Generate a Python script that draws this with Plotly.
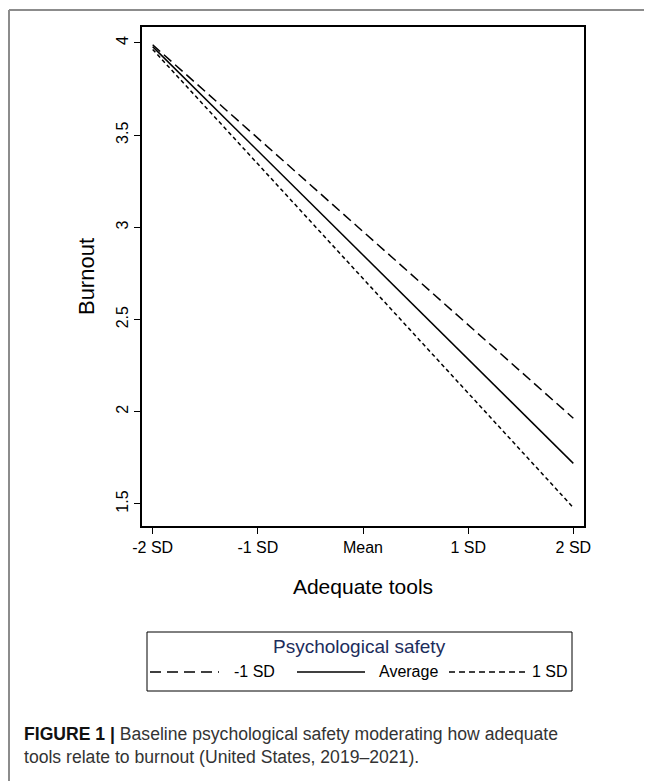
import plotly.graph_objects as go

# ---- data ----
x_ticks = [-2, -1, 0, 1, 2]
x_ticklabels = ["-2 SD", "-1 SD", "Mean", "1 SD", "2 SD"]
x_points = [-2, 2]
burnout_low_ps = [3.99, 1.965]   # -1 SD psychological safety
burnout_avg_ps = [3.98, 1.72]    # Average
burnout_high_ps = [3.965, 1.48]  # 1 SD
y_ticks = [1.5, 2, 2.5, 3, 3.5, 4]
y_ticklabels = ["1.5", "2", "2.5", "3", "3.5", "4"]
legend_title = "Psychological safety"
series_names = ["-1 SD", "Average", "1 SD"]

OFF = 8  # page body margin
W, H = 652 - OFF, 781 - OFF
L, R, T, B = 141, 585, 26, 527  # plot area in page pixels
FONT = "Liberation Sans, Arial, Helvetica, sans-serif"


def px(x):
    return (x - L) / (R - L)


def py(y):
    return (B - y) / (B - T)


fig = go.Figure()
styles = [
    dict(dash="10px,5px", width=1.5),
    dict(dash="solid", width=1.5),
    dict(dash="4px,3px", width=1.5),
]
for name, vals, st in zip(series_names, [burnout_low_ps, burnout_avg_ps, burnout_high_ps], styles):
    fig.add_trace(go.Scatter(
        x=x_points, y=vals, mode="lines", name=name, showlegend=False,
        line=dict(color="black", **st), hoverinfo="skip"))

shapes = []
annotations = []

# outer frame (top and left gray rules)
shapes.append(dict(type="line", xref="paper", yref="paper", x0=px(9), x1=px(660), y0=py(10), y1=py(10),
                   line=dict(color="#8c8c8c", width=2)))
shapes.append(dict(type="line", xref="paper", yref="paper", x0=px(9), x1=px(9), y0=py(10), y1=py(790),
                   line=dict(color="#8c8c8c", width=2)))

# plot box
shapes.append(dict(type="rect", xref="paper", yref="paper", x0=0, x1=1, y0=0, y1=1,
                   line=dict(color="black", width=2), layer="above"))

# legend box
lx0, lx1, ly0, ly1 = 147, 572, 632, 691
shapes.append(dict(type="rect", xref="paper", yref="paper", x0=px(lx0), x1=px(lx1), y0=py(ly1), y1=py(ly0),
                   line=dict(color="black", width=1)))
annotations.append(dict(text=legend_title, xref="paper", yref="paper", x=px((lx0 + lx1) / 2), y=py(646),
                        xanchor="center", yanchor="middle", showarrow=False,
                        font=dict(family=FONT, size=19, color="#1c2d5c")))
row_y = 672
legend_samples = [(150, 219, "11px,6px", 232, "left"), (297, 365, "solid", 377, "left"),
                  (449, 528, "6px,4px", 570, "right")]
for (sx0, sx1, dash, tx, anc), name in zip(legend_samples, series_names):
    shapes.append(dict(type="line", xref="paper", yref="paper", x0=px(sx0), x1=px(sx1), y0=py(row_y), y1=py(row_y),
                       line=dict(color="black", width=1.5, dash=dash)))
    annotations.append(dict(text=name, xref="paper", yref="paper", x=px(tx), y=py(row_y),
                            xanchor=anc, yanchor="middle", showarrow=False,
                            font=dict(family=FONT, size=16, color="black")))

# caption
annotations.append(dict(
    text="<b>FIGURE 1 |</b> <span style='color:#333333'>Baseline psychological safety moderating how adequate</span>",
    xref="paper", yref="paper", x=px(22), y=py(734), xanchor="left", yanchor="middle", showarrow=False,
    font=dict(family=FONT, size=17.6, color="#111111")))
annotations.append(dict(
    text="tools relate to burnout (United States, 2019\u20132021).",
    xref="paper", yref="paper", x=px(22), y=py(757), xanchor="left", yanchor="middle", showarrow=False,
    font=dict(family=FONT, size=17.6, color="#333333")))

fig.update_layout(
    width=W, height=H,
    margin=dict(l=L - OFF, r=652 - R, t=T - OFF, b=781 - B, pad=0),
    paper_bgcolor="white", plot_bgcolor="white",
    font=dict(family=FONT, color="black"),
    shapes=shapes, annotations=annotations,
    xaxis=dict(range=[-2.111, 2.111], tickvals=x_ticks, ticktext=x_ticklabels,
               ticks="outside", ticklen=6, tickwidth=1.2, tickcolor="black",
               showgrid=False, zeroline=False, showline=False,
               tickfont=dict(size=16, family=FONT),
               title=dict(text="Adequate tools", font=dict(size=21, family=FONT), standoff=24)),
    yaxis=dict(range=[1.375, 4.092], tickvals=y_ticks, ticktext=y_ticklabels,
               ticks="outside", ticklen=6, tickwidth=1.2, tickcolor="black", tickangle=-90,
               showgrid=False, zeroline=False, showline=False,
               tickfont=dict(size=16, family=FONT),
               title=dict(text="Burnout", font=dict(size=22, family=FONT), standoff=12)),
)

fig.write_html("out.html")
